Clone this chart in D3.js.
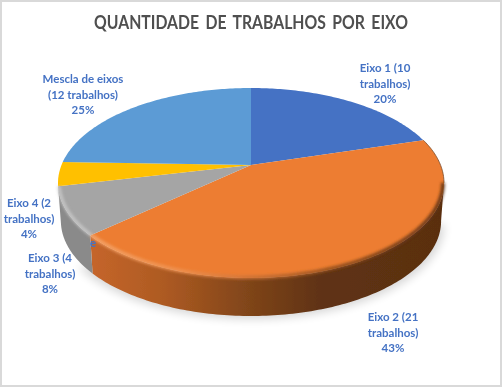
<!DOCTYPE html>
<html>
<head>
<meta charset="utf-8">
<script src="https://cdn.jsdelivr.net/npm/d3@7"></script>
<style>
  html, body { margin: 0; padding: 0; background: #fff; overflow: hidden; }
  text { font-family: Lato, "Open Sans", sans-serif; }
</style>
</head>
<body>
<div id="root"></div>
<script>
const categories = ['Eixo 1 (10 trabalhos)', 'Eixo 2 (21 trabalhos)', 'Eixo 3 (4 trabalhos)', 'Eixo 4 (2 trabalhos)', 'Mescla de eixos (12 trabalhos)'];
const values = [10, 21, 4, 2, 12];
const percentLabels = ['20%', '43%', '8%', '4%', '25%'];
const labelLines = [['Eixo 1 (10', 'trabalhos)'], ['Eixo 2 (21', 'trabalhos)'], ['Eixo 3 (4', 'trabalhos)'], ['Eixo 4 (2', 'trabalhos)'], ['Mescla de eixos', '(12 trabalhos)']];
const colors = ['#4472c4', '#ed7d31', '#a5a5a5', '#ffc000', '#5b9bd5'];

const width = 502;
const height = 387;
const tilt = 0.19; // how far the pie centre sits above the ellipse centre
const depth = 38;

// where each label block sits (centre x, first baseline)
const labelPos = [[385, 72], [393, 321], [50, 262], [29, 207], [83, 83]];

const x = d3.scaleLinear().domain([-1, 1]).range([58, 444]);
const y = d3.scaleLinear().domain([-1, 1]).range([88, 278]);

// perspective: circle point at pie angle a -> unit ellipse point
function project(a, r = 1) {
  const cx = Math.sin(a) * r;
  const cy = -Math.cos(a) * r;
  const den = 1 - tilt * cy;
  return [cx * Math.sqrt(1 - tilt * tilt) / den, (cy - tilt) / den];
}

const arcs = d3.pie().sort(null)(values);
const line = d3.line();
const wallFrom = Math.PI * 0.56; // widest point on the right, the wall shows from here

function rim(a0, a1, r = 1, dy = 0, shrink = 1) {
  const n = Math.max(2, Math.ceil((a1 - a0) * 60));
  return d3.range(n + 1).map(i => {
    const p = project(a0 + (a1 - a0) * i / n, r);
    return [x(p[0] * shrink), y(p[1]) + dy];
  });
}

const svg = d3.select('#root').append('svg')
  .attr('width', width)
  .attr('height', height)
  .style('display', 'block');

const defs = svg.append('defs');
defs.append('filter').attr('id', 'soft').attr('x', '-20%').attr('y', '-20%').attr('width', '140%').attr('height', '140%')
  .append('feGaussianBlur').attr('stdDeviation', 5);
defs.append('filter').attr('id', 'bevel').attr('x', '-10%').attr('y', '-10%').attr('width', '120%').attr('height', '120%')
  .append('feGaussianBlur').attr('stdDeviation', 1.6);
defs.append('filter').attr('id', 'fine').attr('x', '-5%').attr('y', '-5%').attr('width', '110%').attr('height', '110%')
  .append('feGaussianBlur').attr('stdDeviation', 0.35);

const wallGrad = defs.append('linearGradient').attr('id', 'wallOrange')
  .attr('gradientUnits', 'userSpaceOnUse')
  .attr('x1', 95).attr('x2', 444).attr('y1', 0).attr('y2', 0);
[[0, '#c4652a'], [0.2, '#ad5a22'], [0.45, '#7e4419'], [0.65, '#5f3213'], [1, '#5a2f10']].forEach(s => {
  wallGrad.append('stop').attr('offset', s[0]).attr('stop-color', s[1]);
});

const rimGrad = defs.append('linearGradient').attr('id', 'rimOrange')
  .attr('gradientUnits', 'userSpaceOnUse')
  .attr('x1', 95).attr('x2', 444).attr('y1', 0).attr('y2', 0);
[[0, '#f4a46a'], [0.25, '#ee9150'], [0.42, '#d2763a'], [0.7, '#8a4a1b'], [1, '#5c3012']].forEach(s => {
  rimGrad.append('stop').attr('offset', s[0]).attr('stop-color', s[1]);
});

// frame of the screenshot
svg.append('rect')
  .attr('x', 1).attr('y', 1)
  .attr('width', width - 2).attr('height', height - 2)
  .attr('fill', '#fff')
  .attr('stroke', '#d9d9d9')
  .attr('stroke-width', 2);

svg.append('text')
  .attr('x', 251)
  .attr('y', 29)
  .attr('text-anchor', 'middle')
  .attr('font-size', 18.5)
  .attr('font-weight', 700)
  .attr('fill', '#4f4f4f')
  .attr('word-spacing', 3)
  .attr('textLength', 314)
  .attr('lengthAdjust', 'spacingAndGlyphs')
  .attr('filter', 'url(#fine)')
  .text('QUANTIDADE DE TRABALHOS POR EIXO');

// drop shadow under the wall
svg.append('path')
  .attr('d', line(rim(Math.PI * 0.56, Math.PI * 1.3, 1, depth + 3, 1)) + 'Z')
  .attr('fill', '#000')
  .attr('opacity', 0.16)
  .attr('filter', 'url(#soft)');

// side walls, only the front facing slices
const chart = svg.append('g').attr('filter', 'url(#fine)');

[1, 2].forEach(i => {
  const d = arcs[i];
  const a0 = Math.max(d.startAngle, wallFrom);
  const top = rim(a0, d.endAngle);
  const bottom = rim(a0, d.endAngle, 1, depth, 0.985).reverse();
  chart.append('path')
    .attr('d', line(top.concat(bottom)) + 'Z')
    .attr('fill', i === 2 ? '#8a8a8a' : 'url(#wallOrange)');
});

// top faces
const apex = project(0, 0);
arcs.forEach((d, i) => {
  chart.append('path')
    .attr('class', 'slice')
    .attr('data-name', categories[i])
    .attr('d', line([[x(apex[0]), y(apex[1])]].concat(rim(d.startAngle, d.endAngle))) + 'Z')
    .attr('fill', colors[i]);
});

// soft bevel along the front rim
chart.append('path')
  .attr('d', line(rim(arcs[1].startAngle, wallFrom)))
  .attr('fill', 'none')
  .attr('stroke', '#7a4a28')
  .attr('stroke-width', 0.8);
chart.append('path')
  .attr('d', line(rim(wallFrom, arcs[1].endAngle, 0.995)))
  .attr('fill', 'none')
  .attr('stroke', 'url(#rimOrange)')
  .attr('stroke-width', 3.5)
  .attr('filter', 'url(#bevel)');
chart.append('path')
  .attr('d', line(rim(arcs[2].startAngle, arcs[2].endAngle, 0.995)))
  .attr('fill', 'none')
  .attr('stroke', '#c9c9c9')
  .attr('stroke-width', 3)
  .attr('filter', 'url(#bevel)');

// data labels
const labels = svg.append('g')
  .attr('font-size', 11.5)
  .attr('font-weight', 700)
  .attr('fill', '#4472c4')
  .attr('text-anchor', 'middle')
  .attr('filter', 'url(#fine)');

labelLines.forEach((lines, i) => {
  const t = labels.append('text').attr('x', labelPos[i][0]).attr('y', labelPos[i][1]);
  lines.concat(percentLabels[i]).forEach((s, k) => {
    t.append('tspan')
      .attr('x', labelPos[i][0])
      .attr('dy', k === 0 ? 0 : 15.5)
      .text(s);
  });
});

// clipped leftover of a label sitting on the wall in the original
labels.append('text').attr('x', 93).attr('y', 247).text('e');
</script>
</body>
</html>
